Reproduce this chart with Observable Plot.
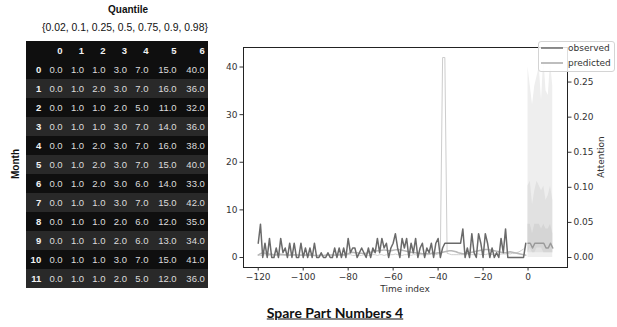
<!DOCTYPE html>
<html><head><meta charset="utf-8">
<script src="https://cdn.jsdelivr.net/npm/d3@7"></script>
<script src="https://cdn.jsdelivr.net/npm/@observablehq/plot@0.6"></script>
<style>
body{margin:0;background:#fff;}
#wrap{position:relative;width:617px;height:327px;overflow:hidden;font-family:"Liberation Sans",Arial,sans-serif;color:#111;}
.abs{position:absolute;white-space:nowrap;}
</style></head><body><div id="wrap">
<div class="abs" style="left:128px;top:8.5px;transform:translate(-50%,-50%);font-weight:bold;font-size:10px;">Quantile</div>
<div class="abs" style="left:125px;top:27px;transform:translate(-50%,-50%);font-size:10.4px;">{0.02, 0.1, 0.25, 0.5, 0.75, 0.9, 0.98}</div>
<div class="abs" style="left:15px;top:164px;transform:translate(-50%,-50%) rotate(-90deg);font-weight:bold;font-size:10px;">Month</div>
<div id="table" class="abs" style="left:0;top:0;"></div>
<div id="chart" class="abs" style="left:215px;top:30px;"></div>
<div class="abs" style="left:405px;top:289px;transform:translate(-50%,-50%);font-family:'DejaVu Sans';font-size:9px;color:#333;">Time index</div>
<div class="abs" style="left:601px;top:157px;transform:translate(-50%,-50%) rotate(-90deg);font-family:'DejaVu Sans';font-size:9px;color:#333;">Attention</div>
<div class="abs" style="left:538px;top:41px;width:75px;height:29px;border:1px solid #d4d4d4;border-radius:3px;background:rgba(255,255,255,0.85);font-family:'DejaVu Sans';font-size:9px;color:#333;">
  <svg style="position:absolute;left:0;top:0" width="75" height="29">
    <line x1="2" x2="24" y1="6" y2="6" stroke="#6a6a6a" stroke-width="1.5"/>
    <line x1="2" x2="24" y1="21" y2="21" stroke="#a8a8a8" stroke-width="1.5"/>
  </svg>
  <div class="abs" style="left:29px;top:0px;line-height:12px;">observed</div>
  <div class="abs" style="left:29px;top:15px;line-height:12px;">predicted</div>
</div>
<div class="abs" style="left:335px;top:312px;transform:translate(-50%,-50%);font-family:Lato,'Liberation Sans',sans-serif;font-weight:bold;font-size:14px;text-decoration:underline;">Spare Part Numbers 4</div>
</div>
<script>
// ---- table data (quantile columns 0..6 per month 0..11)
const quantileCols = ["0","1","2","3","4","5","6"];
const months = ["0","1","2","3","4","5","6","7","8","9","10","11"];
const q02 = [0,0,0,0,0,0,0,0,0,0,0,0];
const q10 = [1,1,1,1,1,1,1,1,1,1,1,1];
const q25 = [1,2,1,1,2,2,2,1,1,1,1,1];
const q50 = [3,3,2,3,3,3,3,3,2,2,3,2];
const q75 = [7,7,5,7,7,7,6,7,6,6,7,5];
const q90 = [15,16,11,14,16,15,14,15,12,13,15,12];
const q98 = [40,36,32,36,38,40,33,42,35,34,41,36];

// ---- history series, time index -120 .. -1
const observed = [
 3,7,0,3,0,4,0,0,2,0,
 4,1,2,0,3,0,3,0,0,3,
 0,2,0,2,0,3,0,0,1,0,
 0,1,0,0,2,0,2,0,2,0,
 4,1,2,2,0,1,2,1,0,2,
 0,2,1,4,1,4,2,3,0,2,
 3,5,2,0,4,2,4,0,3,1,
 4,0,2,3,0,2,1,3,0,3,
 4,0,2,3,3,3,3,3,3,3,
 3,6,0,2,0,5,1,0,5,3,
 0,5,3,0,2,0,1,0,4,1,
 6,0,0,0,0,0,0,0,0,3];
const predicted = [
 0.5,0.8,1.0,0.9,0.8,0.7,0.7,0.6,0.6,0.7,
 0.7,0.6,0.6,0.6,0.5,0.5,0.6,0.6,0.5,0.5,
 0.5,0.5,0.5,0.5,0.5,0.4,0.4,0.4,0.4,0.4,
 0.5,0.5,0.5,0.5,0.5,0.6,0.6,0.6,0.6,0.7,
 0.8,1.0,1.1,1.0,1.0,0.9,0.9,0.8,0.9,1.0,
 1.1,1.2,1.3,1.4,1.4,1.5,1.6,1.5,1.4,1.4,
 1.5,1.6,1.7,1.6,1.5,1.4,1.3,1.2,1.1,1.0,
 1.0,0.9,0.9,0.8,0.8,0.8,0.8,0.9,0.9,0.9,
 1.0,1.0,1.1,1.2,1.3,1.4,1.4,1.3,1.2,1.0,
 0.9,0.8,0.8,0.9,1.0,1.1,1.2,1.3,1.4,1.5,
 1.6,1.7,1.7,1.6,1.5,1.4,1.3,1.2,1.1,1.0,
 1.0,1.1,1.2,1.1,1.0,0.9,0.8,0.7,0.6,0.5];
const attention = [
 .004,.003,.003,.004,.003,.003,.004,.003,.003,.003,
 .003,.004,.003,.003,.003,.004,.003,.003,.003,.003,
 .003,.003,.004,.003,.003,.003,.003,.003,.004,.003,
 .003,.003,.003,.004,.003,.003,.003,.004,.003,.003,
 .004,.004,.003,.003,.004,.003,.003,.004,.004,.003,
 .003,.004,.004,.003,.004,.004,.003,.004,.003,.004,
 .004,.005,.004,.004,.003,.004,.004,.004,.003,.004,
 .004,.003,.004,.004,.003,.004,.004,.005,.004,.004,
 .005,.006,.285,.285,.006,.005,.004,.004,.004,.004,
 .004,.004,.004,.005,.004,.004,.004,.005,.005,.004,
 .005,.004,.005,.005,.004,.005,.005,.004,.005,.005,
 .005,.006,.005,.006,.006,.007,.008,.010,.012,.015];
const xTicks = [-120,-100,-80,-60,-40,-20,0];
const yTicks = [0,10,20,30,40];
const attTicks = [0,0.05,0.10,0.15,0.20,0.25];

// ---- table
const qCols = [q02,q10,q25,q50,q75,q90,q98];
const cells = [];
months.forEach((m,i)=>quantileCols.forEach((c,j)=>cells.push({row:m,col:c,v:qCols[j][i]})));
const rowKeys = ["hdr",...months];
const darkRows = rowKeys.filter((r,i)=>i%2===1 || i===0);
const grayRows = rowKeys.filter((r,i)=>i%2===0 && i>0);
// column right edges follow the widest string in each column (like a pandas table)
const colText = [months, ...qCols.map(c=>c.map(v=>v.toFixed(1)))];
const colWidth = colText.map(t=>6.75*d3.max(t,s=>String(s).length)+1.2);
const colRight = d3.cumsum(colWidth);
const colIdx = {idx:0}; quantileCols.forEach((c,j)=>colIdx[c]=j+1);
const table = Plot.plot({
  width:215, height:300, marginLeft:26, marginRight:7, marginTop:36, marginBottom:8,
  x:{type:"linear", domain:[0,182], axis:null},
  y:{type:"band", domain:rowKeys, padding:0, axis:null},
  style:{fontFamily:"'Liberation Sans',Arial,sans-serif", background:"transparent"},
  marks:[
    Plot.cell(darkRows,{y:d=>d, fill:"#0f0f0f"}),
    Plot.cell(grayRows,{y:d=>d, fill:"#292929"}),
    Plot.text(quantileCols,{x:d=>colRight[colIdx[d]], y:()=>"hdr", text:d=>d, textAnchor:"end", fill:"#f2f2f2", fontWeight:"bold", fontSize:9.5}),
    Plot.text(months,{x:()=>colRight[0], y:d=>d, text:d=>d, textAnchor:"end", fill:"#f2f2f2", fontWeight:"bold", fontSize:9.5}),
    Plot.text(cells,{x:d=>colRight[colIdx[d.col]], y:"row", text:d=>d.v.toFixed(1), textAnchor:"end", fill:"#dcdcdc", fontSize:9.5})
  ]
});
document.getElementById("table").appendChild(table);

// ---- line chart
const yDomain = [-2.1, 44.1];
const attDomain = [-0.01425, 0.29925];
const K = (yDomain[1]-yDomain[0])/(attDomain[1]-attDomain[0]);
const histT = d3.range(-120, 0);
const hist = histT.map((t,i)=>({t, obs:observed[i], pred:predicted[i], att:attention[i]}));
const fc = months.map((m,i)=>({t:+m, q02:q02[i], q10:q10[i], q25:q25[i], q50:q50[i], q75:q75[i], q90:q90[i], q98:q98[i]}));
const fmt = d => d<0 ? "\u2212"+(-d) : String(d);
const chart = Plot.plot({
  width:402, height:270, marginLeft:28, marginRight:50, marginTop:17, marginBottom:33,
  x:{domain:[-126.55,17.55], label:null},
  y:{domain:yDomain, label:null},
  style:{fontFamily:"'DejaVu Sans',sans-serif", fontSize:"9px", color:"#333", background:"transparent"},
  marks:[
    Plot.areaY(fc,{x:"t", y1:"q02", y2:"q98", fill:"#eeeeee"}),
    Plot.areaY(fc,{x:"t", y1:"q10", y2:"q90", fill:"#e1e1e1"}),
    Plot.areaY(fc,{x:"t", y1:"q25", y2:"q75", fill:"#d5d5d5"}),
    Plot.line(hist,{x:"t", y:d=>d.att*K, stroke:"#cdcdcd", strokeWidth:1}),
    Plot.line(hist,{x:"t", y:"pred", stroke:"#b8b8b8", strokeWidth:1.5}),
    Plot.line(fc,{x:"t", y:"q50", stroke:"#9a9a9a", strokeWidth:1.5}),
    Plot.line(hist,{x:"t", y:"obs", stroke:"#6a6a6a", strokeWidth:1.5}),
    Plot.frame({stroke:"#222"}),
    Plot.axisX(xTicks,{tickSize:3.5, tickPadding:2.5, tickFormat:fmt, label:null}),
    Plot.axisY(yTicks,{anchor:"left", tickSize:3.5, tickPadding:2.5, label:null}),
    Plot.axisY(attTicks.map(a=>a*K),{anchor:"right", tickSize:3.5, tickPadding:2.5, tickFormat:d=>(d/K).toFixed(2), label:null})
  ]
});
document.getElementById("chart").appendChild(chart);
</script>
</body></html>
